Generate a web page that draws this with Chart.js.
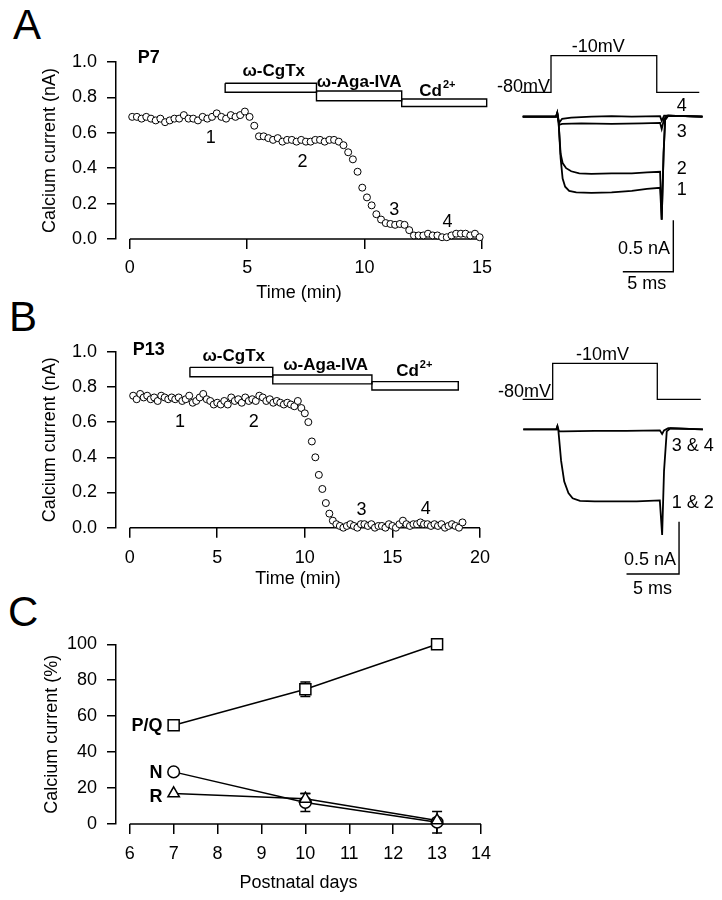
<!DOCTYPE html>
<html>
<head>
<meta charset="utf-8">
<title>Calcium current components</title>
<script src="https://cdn.jsdelivr.net/npm/chart.js@4.4.1/dist/chart.umd.min.js"></script>
<style>
  html, body { margin: 0; padding: 0; background: #fff; }
  #fig { position: relative; width: 722px; height: 900px; overflow: hidden; font-family: "Liberation Sans", Arial, Helvetica, sans-serif; }
  #fig canvas { position: absolute; }
  .panel { position: absolute; font-size: 42px; line-height: 42px; color: #000; }
</style>
</head>
<body>
<div id="fig">
  <div class="panel" style="left:13px;top:4px">A</div>
  <div class="panel" style="left:9px;top:296px">B</div>
  <div class="panel" style="left:8px;top:591px">C</div>
  <canvas id="courseA" width="500" height="310" style="left:0;top:0"></canvas>
  <canvas id="tracesA" width="242" height="300" style="left:480px;top:0"></canvas>
  <canvas id="courseB" width="500" height="310" style="left:0;top:290px"></canvas>
  <canvas id="tracesB" width="242" height="300" style="left:480px;top:300px"></canvas>
  <canvas id="devC" width="500" height="320" style="left:0;top:580px"></canvas>
</div>
<script>
const FONT = '"Liberation Sans", Arial, Helvetica, sans-serif';
Chart.defaults.font.family = FONT;
Chart.defaults.font.size = 18;
Chart.defaults.color = '#000';

// ---------- Panel A: P7 time course ----------
const timeA = [0.1, 0.3, 0.5, 0.7, 0.9, 1.1, 1.3, 1.5, 1.7, 1.9,
  2.1, 2.3, 2.5, 2.7, 2.9, 3.1, 3.3, 3.5, 3.7, 3.9,
  4.1, 4.3, 4.5, 4.7, 4.9, 5.1, 5.3, 5.5, 5.7, 5.9,
  6.1, 6.3, 6.5, 6.7, 6.9, 7.1, 7.3, 7.5, 7.7, 7.9,
  8.1, 8.3, 8.5, 8.7, 8.9, 9.1, 9.3, 9.5, 9.7, 9.9,
  10.1, 10.3, 10.5, 10.7, 10.9, 11.1, 11.3, 11.5, 11.7, 11.9,
  12.1, 12.3, 12.5, 12.7, 12.9, 13.1, 13.3, 13.5, 13.7, 13.9,
  14.1, 14.3, 14.5, 14.7, 14.9];
const currentA = [0.69, 0.69, 0.68, 0.69, 0.68, 0.67, 0.68, 0.66, 0.67, 0.68,
  0.68, 0.70, 0.68, 0.68, 0.67, 0.69, 0.68, 0.69, 0.71, 0.69,
  0.68, 0.70, 0.69, 0.70, 0.72, 0.69, 0.64, 0.58, 0.58, 0.57,
  0.56, 0.57, 0.55, 0.56, 0.56, 0.55, 0.56, 0.55, 0.55, 0.56,
  0.56, 0.55, 0.56, 0.56, 0.55, 0.53, 0.49, 0.45, 0.38, 0.29,
  0.235, 0.19, 0.14, 0.11, 0.09, 0.085, 0.08, 0.085, 0.08, 0.05,
  0.02, 0.02, 0.02, 0.03, 0.02, 0.02, 0.01, 0.01, 0.02, 0.03,
  0.03, 0.03, 0.02, 0.03, 0.01];
const drugStartA = [4.06, 7.95, 11.58];
const drugEndA = [7.95, 11.58, 15.2];
const timeTicksA = [0, 5, 10, 15];

// ---------- Panel B: P13 time course ----------
const timeB = [0.2, 0.4, 0.6, 0.8, 1.0, 1.2, 1.4, 1.6, 1.8, 2.0,
  2.2, 2.4, 2.6, 2.8, 3.0, 3.2, 3.4, 3.6, 3.8, 4.0,
  4.2, 4.4, 4.6, 4.8, 5.0, 5.2, 5.4, 5.6, 5.8, 6.0,
  6.2, 6.4, 6.6, 6.8, 7.0, 7.2, 7.4, 7.6, 7.8, 8.0,
  8.2, 8.4, 8.6, 8.8, 9.0, 9.2, 9.4, 9.6, 9.8, 10.0,
  10.2, 10.4, 10.6, 10.8, 11.0, 11.2, 11.4, 11.6, 11.8, 12.0,
  12.2, 12.4, 12.6, 12.8, 13.0, 13.2, 13.4, 13.6, 13.8, 14.0,
  14.2, 14.4, 14.6, 14.8, 15.0, 15.2, 15.4, 15.6, 15.8, 16.0,
  16.2, 16.4, 16.6, 16.8, 17.0, 17.2, 17.4, 17.6, 17.8, 18.0,
  18.2, 18.4, 18.6, 18.8, 19.0];
const currentB = [0.75, 0.73, 0.76, 0.74, 0.75, 0.73, 0.74, 0.72, 0.75, 0.74,
  0.73, 0.74, 0.73, 0.74, 0.72, 0.73, 0.75, 0.71, 0.72, 0.74,
  0.76, 0.73, 0.72, 0.70, 0.71, 0.70, 0.72, 0.70, 0.74, 0.72,
  0.73, 0.71, 0.74, 0.72, 0.73, 0.72, 0.75, 0.74, 0.72, 0.73,
  0.71, 0.72, 0.71, 0.70, 0.71, 0.70, 0.69, 0.72, 0.68, 0.65,
  0.60, 0.49, 0.40, 0.30, 0.22, 0.14, 0.08, 0.04, 0.02, 0.01,
  0.00, 0.01, 0.02, 0.01, 0.00, 0.02, 0.02, 0.01, 0.02, 0.00,
  0.01, 0.01, 0.00, 0.02, 0.01, 0.00, 0.02, 0.04, 0.02, 0.01,
  0.02, 0.02, 0.03, 0.02, 0.02, 0.01, 0.02, 0.01, 0.02, 0.00,
  0.01, 0.02, 0.01, 0.00, 0.03];
const drugStartB = [3.44, 8.17, 13.83];
const drugEndB = [8.17, 13.83, 18.76];
const timeTicksB = [0, 5, 10, 15, 20];
const currentTicks = [0, 0.2, 0.4, 0.6, 0.8, 1.0];

// ---------- Current traces: [ms, mV] command, [ms, nA] sweeps ----------
const stepA = [[-2.97, -80], [0, -80], [0, -10], [10.47, -10], [10.47, -80], [14.68, -80]];
const sweep1A = [[-2.8, 0], [0.5, 0], [0.62, 0.03], [0.75, -0.05], [0.95, -0.4], [1.15, -0.6], [1.4, -0.68], [1.8, -0.72],
  [2.5, -0.735], [4, -0.74], [6, -0.735], [8, -0.72], [9.5, -0.7], [10.8, -0.69], [10.96, -1.0], [11.15, -0.35],
  [11.3, -0.03], [11.6, 0.01], [15, 0]];
const sweep2A = [[-2.8, 0], [0.5, 0], [0.62, 0.03], [0.75, -0.05], [0.95, -0.36], [1.15, -0.45], [1.5, -0.5], [2.0, -0.53],
  [2.8, -0.55], [4, -0.555], [6, -0.55], [8, -0.55], [9.5, -0.54], [10.8, -0.535], [10.96, -1.0], [11.15, -0.35],
  [11.3, -0.03], [11.6, 0.01], [15, 0]];
const sweep3A = [[-2.8, 0], [0.5, 0], [0.62, 0.04], [0.8, -0.08], [1.1, -0.07], [3, -0.065], [6, -0.07], [9, -0.065],
  [10.8, -0.06], [10.96, -0.12], [11.2, -0.02], [11.5, 0.01], [15, 0]];
const sweep4A = [[-2.8, 0], [0.5, 0], [0.62, 0.04], [0.8, -0.06], [1.1, -0.02], [2, -0.01], [4, 0], [6, 0.005],
  [8, 0], [10.8, 0.005], [10.96, -0.04], [11.2, 0.01], [15, 0]];

const stepB = [[-2.86, -80], [0, -80], [0, -10], [9.96, -10], [9.96, -80], [14.1, -80]];
const sweep12B = [[-2.8, 0], [0.35, 0], [0.45, 0.03], [0.55, -0.02], [0.8, -0.3], [1.1, -0.5], [1.5, -0.61], [1.9, -0.66],
  [2.6, -0.685], [4, -0.69], [6, -0.69], [8, -0.69], [10.2, -0.68], [10.42, -1.01], [10.6, -0.4], [10.86, -0.02],
  [11.2, 0.01], [14.3, 0]];
const sweep34B = [[-2.8, 0], [0.35, 0], [0.45, 0.03], [0.6, -0.02], [1, -0.02], [4, -0.015], [7, -0.015], [10.2, -0.01],
  [10.42, -0.045], [10.6, -0.01], [11, 0.01], [14.3, 0]];
const scaleBarMs = 5;
const scaleBarNa = 0.5;

// ---------- Panel C: development ----------
const daysC = [7, 10, 13];
const pqC = [55, 75, 100];
const pqErrC = [0, 4, 0];
const nC = [29, 12, 1];
const nErrC = [0, 5, 6];
const rC = [17, 14, 2];
const rErrC = [0, 3, 0];
const dayTicks = [6, 7, 8, 9, 10, 11, 12, 13, 14];
const percentTicks = [0, 20, 40, 60, 80, 100];

// draws text at data coordinates
function labelPlugin(items) {
  return {
    id: 'labels',
    afterDatasetsDraw(chart) {
      const ctx = chart.ctx;
      items.forEach(it => {
        const px = chart.scales.x.getPixelForValue(it.x);
        const py = chart.scales[it.axis || 'y'].getPixelForValue(it.y);
        const size = it.size || 18;
        const main = (it.bold ? 'bold ' : '') + size + 'px ' + FONT;
        const supFont = (it.bold ? 'bold ' : '') + Math.round(size * 0.62) + 'px ' + FONT;
        ctx.save();
        ctx.fillStyle = '#000';
        ctx.textBaseline = 'middle';
        ctx.textAlign = 'left';
        ctx.font = main;
        const w = ctx.measureText(it.text).width;
        let supW = 0;
        if (it.sup) {
          ctx.font = supFont;
          supW = ctx.measureText(it.sup).width + 1;
        }
        const total = w + supW;
        const align = it.align || 'center';
        const left = align === 'center' ? px - total / 2 : align === 'right' ? px - total : px;
        ctx.font = main;
        ctx.fillText(it.text, left, py);
        if (it.sup) {
          ctx.font = supFont;
          ctx.fillText(it.sup, left + w + 1, py - size * 0.38);
        }
        ctx.restore();
      });
    }
  };
}

// x axis line only spans first..last tick (detached from y axis)
const xAxisLine = {
  id: 'xAxisLine',
  beforeDatasetsDraw(chart) {
    const xs = chart.scales.x;
    const t = xs.ticks;
    const y = chart.chartArea.bottom;
    const ctx = chart.ctx;
    ctx.save();
    ctx.strokeStyle = '#000';
    ctx.lineWidth = 1.5;
    ctx.beginPath();
    ctx.moveTo(xs.getPixelForValue(t[0].value), y);
    ctx.lineTo(xs.getPixelForValue(t[t.length - 1].value), y);
    ctx.stroke();
    ctx.restore();
  }
};

function axisScales(o) {
  return {
    x: {
      type: 'linear', min: o.xMin, max: o.xMax,
      afterBuildTicks: s => { s.ticks = o.xTicks.map(v => ({ value: v })); },
      afterFit: s => { s.height = o.xAxisHeight; },
      ticks: { color: '#000', padding: o.xTickPad, maxRotation: 0, autoSkip: false },
      grid: { drawOnChartArea: false, drawTicks: true, tickLength: 10, color: '#000', lineWidth: 1.5 },
      border: { display: false },
      title: { display: true, text: o.xTitle, color: '#000', padding: { top: 0, bottom: o.xTitlePad } }
    },
    y: {
      type: 'linear', min: o.yMin, max: o.yMax,
      afterBuildTicks: s => { s.ticks = o.yTicks.map(v => ({ value: v })); },
      afterFit: s => { s.width = 116; },
      ticks: { color: '#000', padding: 10, callback: o.yFormat },
      grid: { drawOnChartArea: false, drawTicks: true, tickLength: 9, color: '#000', lineWidth: 1.5 },
      border: { display: true, color: '#000', width: 1.5 },
      title: { display: true, text: o.yTitle, color: '#000', padding: { top: o.yTitlePad, bottom: 0 } }
    }
  };
}

function timeCourse(id, o) {
  const datasets = [{
    data: o.time.map((t, i) => ({ x: t, y: o.current[i] })),
    pointStyle: 'circle', pointRadius: 3.5,
    pointBackgroundColor: '#fff', pointBorderColor: '#000', pointBorderWidth: 1,
    clip: false
  }];
  o.drugStart.forEach((s, i) => {
    const e = o.drugEnd[i], top = o.barTop[i], bot = o.barBottom[i];
    datasets.push({
      data: [{ x: s, y: top }, { x: e, y: top }, { x: e, y: bot }, { x: s, y: bot }, { x: s, y: top }],
      showLine: true, borderColor: '#000', borderWidth: 1.4, pointRadius: 0, fill: false, clip: false
    });
  });
  return new Chart(document.getElementById(id), {
    type: 'scatter',
    data: { datasets },
    options: {
      responsive: false, animation: false, events: [],
      layout: { padding: { top: o.top, right: o.right, left: 0, bottom: 0 } },
      plugins: { legend: { display: false }, tooltip: { enabled: false } },
      scales: axisScales(o)
    },
    plugins: [xAxisLine, labelPlugin(o.labels)]
  });
}

function traceChart(id, o) {
  const line = { showLine: true, borderColor: '#000', pointRadius: 0, fill: false, clip: false };
  const datasets = [{ ...line, data: o.step.map(p => ({ x: p[0], y: p[1] })), yAxisID: 'mV', borderWidth: 1.3 }];
  o.sweeps.forEach(sw => {
    datasets.push({ ...line, data: sw.map(p => ({ x: p[0], y: p[1] })), yAxisID: 'nA', borderWidth: 1.8 });
  });
  const c = o.barCorner;
  datasets.push({
    ...line, yAxisID: 'nA', borderWidth: 1.4,
    data: [{ x: c.x - scaleBarMs, y: c.y }, { x: c.x, y: c.y }, { x: c.x, y: c.y + scaleBarNa }]
  });
  return new Chart(document.getElementById(id), {
    type: 'scatter',
    data: { datasets },
    options: {
      responsive: false, animation: false, events: [],
      layout: { padding: 0 },
      plugins: { legend: { display: false }, tooltip: { enabled: false } },
      scales: {
        x: { type: 'linear', display: false, min: o.xMin, max: o.xMax },
        nA: { type: 'linear', axis: 'y', display: false, min: o.naMin, max: o.naMax },
        mV: { type: 'linear', axis: 'y', display: false, min: o.mvMin, max: o.mvMax }
      }
    },
    plugins: [labelPlugin(o.labels)]
  });
}

const oneDecimal = v => Number(v).toFixed(1);

timeCourse('courseA', {
  time: timeA, current: currentA,
  drugStart: drugStartA, drugEnd: drugEndA,
  barTop: [0.880, 0.836, 0.791], barBottom: [0.829, 0.781, 0.749],
  top: 62, right: 13, xAxisHeight: 71,
  xMin: -0.59, xMax: 15, xTicks: timeTicksA, xTickPad: 8, xTitle: 'Time (min)', xTitlePad: 6,
  yMin: 0, yMax: 1, yTicks: currentTicks, yFormat: oneDecimal, yTitle: 'Calcium current (nA)', yTitlePad: 39,
  labels: [
    { x: 0.34, y: 1.025, text: 'P7', bold: true, align: 'left' },
    { x: 6.13, y: 0.946, text: 'ω-CgTx', bold: true, size: 17 },
    { x: 9.77, y: 0.884, text: 'ω-Aga-IVA', bold: true, size: 17 },
    { x: 13.1, y: 0.836, text: 'Cd', sup: '2+', bold: true, size: 17 },
    { x: 3.45, y: 0.573, text: '1' },
    { x: 7.35, y: 0.435, text: '2' },
    { x: 11.26, y: 0.164, text: '3' },
    { x: 13.53, y: 0.096, text: '4' }
  ]
});

timeCourse('courseB', {
  time: timeB, current: currentB,
  drugStart: drugStartB, drugEnd: drugEndB,
  barTop: [0.911, 0.868, 0.830], barBottom: [0.858, 0.817, 0.782],
  top: 61.7, right: 11, xAxisHeight: 72.3,
  xMin: -0.78, xMax: 20, xTicks: timeTicksB, xTickPad: 10, xTitle: 'Time (min)', xTitlePad: 10,
  yMin: 0, yMax: 1, yTicks: currentTicks, yFormat: oneDecimal, yTitle: 'Calcium current (nA)', yTitlePad: 39,
  labels: [
    { x: 0.17, y: 1.01, text: 'P13', bold: true, align: 'left' },
    { x: 5.94, y: 0.972, text: 'ω-CgTx', bold: true, size: 17 },
    { x: 11.19, y: 0.924, text: 'ω-Aga-IVA', bold: true, size: 17 },
    { x: 16.25, y: 0.886, text: 'Cd', sup: '2+', bold: true, size: 17 },
    { x: 2.88, y: 0.602, text: '1' },
    { x: 7.09, y: 0.602, text: '2' },
    { x: 13.24, y: 0.10, text: '3' },
    { x: 16.9, y: 0.105, text: '4' }
  ]
});

traceChart('tracesA', {
  step: stepA, sweeps: [sweep1A, sweep2A, sweep3A, sweep4A],
  barCorner: { x: 12.11, y: -1.505 },
  xMin: -7.03, xMax: 16.93, naMin: -1.78, naMax: 1.133, mvMin: -477.2, mvMax: 96.5,
  labels: [
    { x: 4.68, y: 5.7, axis: 'mV', text: '-10mV' },
    { x: -0.1, y: -69.9, axis: 'mV', text: '-80mV', align: 'right' },
    { x: 12.94, y: 0.104, axis: 'nA', text: '4' },
    { x: 12.94, y: -0.153, axis: 'nA', text: '3' },
    { x: 12.94, y: -0.508, axis: 'nA', text: '2' },
    { x: 12.94, y: -0.712, axis: 'nA', text: '1' },
    { x: 11.78, y: -1.284, axis: 'nA', text: '0.5 nA', align: 'right' },
    { x: 9.47, y: -1.624, axis: 'nA', text: '5 ms' }
  ]
});

traceChart('tracesB', {
  step: stepB, sweeps: [sweep12B, sweep34B],
  barCorner: { x: 12.03, y: -1.383 },
  xMin: -6.92, xMax: 16.12, naMin: -1.632, naMax: 1.236, mvMin: -470.2, mvMax: 113.1,
  labels: [
    { x: 4.74, y: 6.1, axis: 'mV', text: '-10mV' },
    { x: -0.16, y: -66.8, axis: 'mV', text: '-80mV', align: 'right' },
    { x: 11.33, y: -0.157, axis: 'nA', text: '3 & 4', align: 'left' },
    { x: 11.33, y: -0.705, axis: 'nA', text: '1 & 2', align: 'left' },
    { x: 11.74, y: -1.25, axis: 'nA', text: '0.5 nA', align: 'right' },
    { x: 9.5, y: -1.527, axis: 'nA', text: '5 ms' }
  ]
});

// ---------- Panel C ----------
const errorBars = {
  id: 'errorBars',
  beforeDatasetsDraw(chart) {
    const ctx = chart.ctx;
    const xs = chart.scales.x, ys = chart.scales.y;
    [[pqC, pqErrC], [nC, nErrC], [rC, rErrC]].forEach(([vals, errs]) => {
      vals.forEach((v, i) => {
        if (!errs[i]) return;
        const x = xs.getPixelForValue(daysC[i]);
        const y1 = ys.getPixelForValue(v - errs[i]);
        const y2 = ys.getPixelForValue(v + errs[i]);
        ctx.save();
        ctx.strokeStyle = '#000';
        ctx.lineWidth = 1.5;
        ctx.beginPath();
        ctx.moveTo(x, y1); ctx.lineTo(x, y2);
        ctx.moveTo(x - 5, y1); ctx.lineTo(x + 5, y1);
        ctx.moveTo(x - 5, y2); ctx.lineTo(x + 5, y2);
        ctx.stroke();
        ctx.restore();
      });
    });
  }
};

function devSeries(vals, style, radius) {
  return {
    data: daysC.map((d, i) => ({ x: d, y: vals[i] })),
    showLine: true, borderColor: '#000', borderWidth: 1.5,
    pointStyle: style, pointRadius: radius,
    pointBackgroundColor: '#fff', pointBorderColor: '#000', pointBorderWidth: 1.5,
    clip: false
  };
}

// first dataset is painted last, so the triangles sit on top of the circles
new Chart(document.getElementById('devC'), {
  type: 'scatter',
  data: { datasets: [devSeries(rC, 'triangle', 6.6), devSeries(nC, 'circle', 5.8), devSeries(pqC, 'rect', 7.8)] },
  options: {
    responsive: false, animation: false, events: [],
    layout: { padding: { top: 64.3, right: 12.4, left: 0, bottom: 0 } },
    plugins: { legend: { display: false }, tooltip: { enabled: false } },
    scales: axisScales({
      xMin: 5.687, xMax: 14, xTicks: dayTicks, xTickPad: 9, xTitle: 'Postnatal days', xTitlePad: 6, xAxisHeight: 76,
      yMin: 0, yMax: 100, yTicks: percentTicks, yFormat: v => v, yTitle: 'Calcium current (%)', yTitlePad: 41
    })
  },
  plugins: [xAxisLine, errorBars, labelPlugin([
    { x: 6.745, y: 54.5, text: 'P/Q', bold: true, align: 'right' },
    { x: 6.745, y: 28.5, text: 'N', bold: true, align: 'right' },
    { x: 6.745, y: 15.2, text: 'R', bold: true, align: 'right' }
  ])]
});
</script>
</body>
</html>
